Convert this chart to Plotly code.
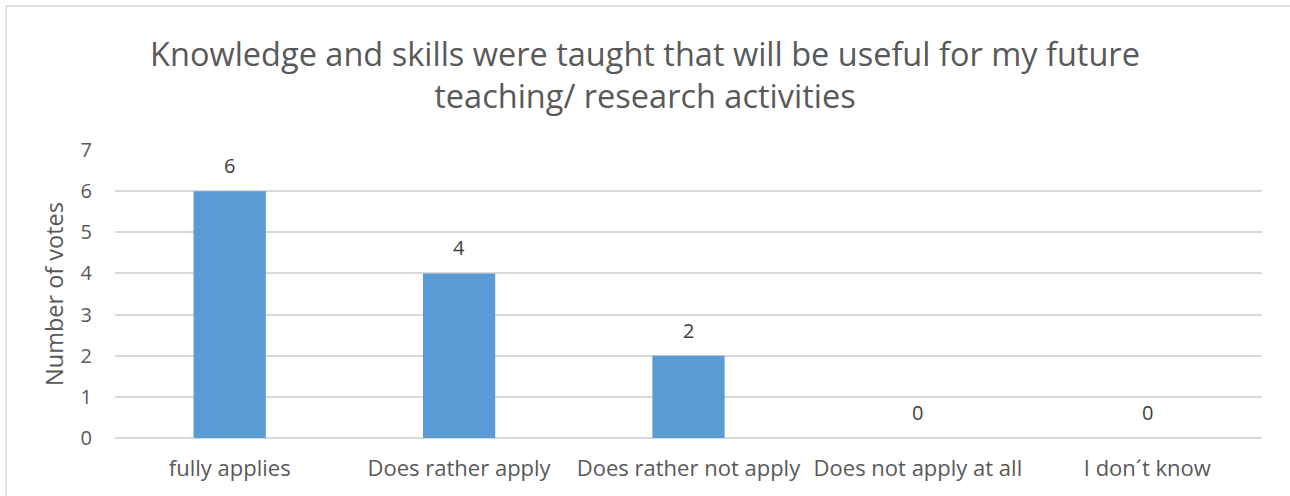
import plotly.graph_objects as go

categories = ["fully applies", "Does rather apply", "Does rather not apply", "Does not apply at all", "I don\u00b4t know"]
votes = [6, 4, 2, 0, 0]
y_ticks = [0, 1, 2, 3, 4, 5, 6, 7]

W, H = 1290, 496
ml, mr, mt, mb = 115, 28, 150, 58
pw, ph = W - ml - mr, H - mt - mb

text_color = "#595959"
font_family = "Open Sans, Liberation Sans, sans-serif"

fig = go.Figure()
fig.add_trace(go.Bar(
    x=categories, y=votes,
    marker=dict(color="#5B9BD5", line=dict(width=0)),
    hoverinfo="x+y",
))

annotations = []
for c, v in zip(categories, votes):
    annotations.append(dict(
        x=c, y=v, xref="x", yref="y", text=str(v), showarrow=False,
        yanchor="bottom", yshift=10,
        font=dict(size=20, color="#404040", family=font_family),
    ))

def px_x(p):
    return (p - ml) / pw

def px_y(p):
    return 1 - (p - mt) / ph

shapes = [dict(
    type="rect", xref="paper", yref="paper",
    x0=px_x(6), x1=px_x(1300), y0=px_y(6), y1=px_y(510),
    line=dict(color="#D9D9D9", width=1.5), fillcolor="rgba(0,0,0,0)", layer="below",
)]

fig.update_layout(
    width=W, height=H,
    margin=dict(l=ml, r=mr, t=mt, b=mb, pad=0, autoexpand=False),
    paper_bgcolor="white", plot_bgcolor="white",
    title=dict(
        text="Knowledge and skills were taught that will be useful for my future<br>teaching/ research activities",
        x=0.5, xref="container", xanchor="center",
        y=1 - 66 / H, yref="container", yanchor="middle",
        font=dict(size=32.5, color=text_color, family=font_family),
    ),
    bargap=0.685,
    showlegend=False,
    xaxis=dict(
        showgrid=False, showline=False, zeroline=False, ticks="",
        automargin=False,
        tickfont=dict(size=22, color=text_color, family=font_family),
        ticklabelstandoff=15,
    ),
    yaxis=dict(
        range=[0, 7], tickvals=y_ticks,
        automargin=False,
        showgrid=True, gridcolor="#D9D9D9", gridwidth=1.5,
        zeroline=True, zerolinecolor="#D9D9D9", zerolinewidth=1.5,
        showline=False, ticks="",
        tickfont=dict(size=20, color=text_color, family=font_family),
        ticklabelstandoff=22,
        title=dict(text="Number of votes", font=dict(size=23.5, color=text_color, family=font_family), standoff=10),
    ),
    annotations=annotations,
    shapes=shapes,
)

fig.write_html(
    "out.html",
    config={"displayModeBar": False},
    post_script="document.body.style.margin='0';document.body.style.overflow='hidden';",
)
